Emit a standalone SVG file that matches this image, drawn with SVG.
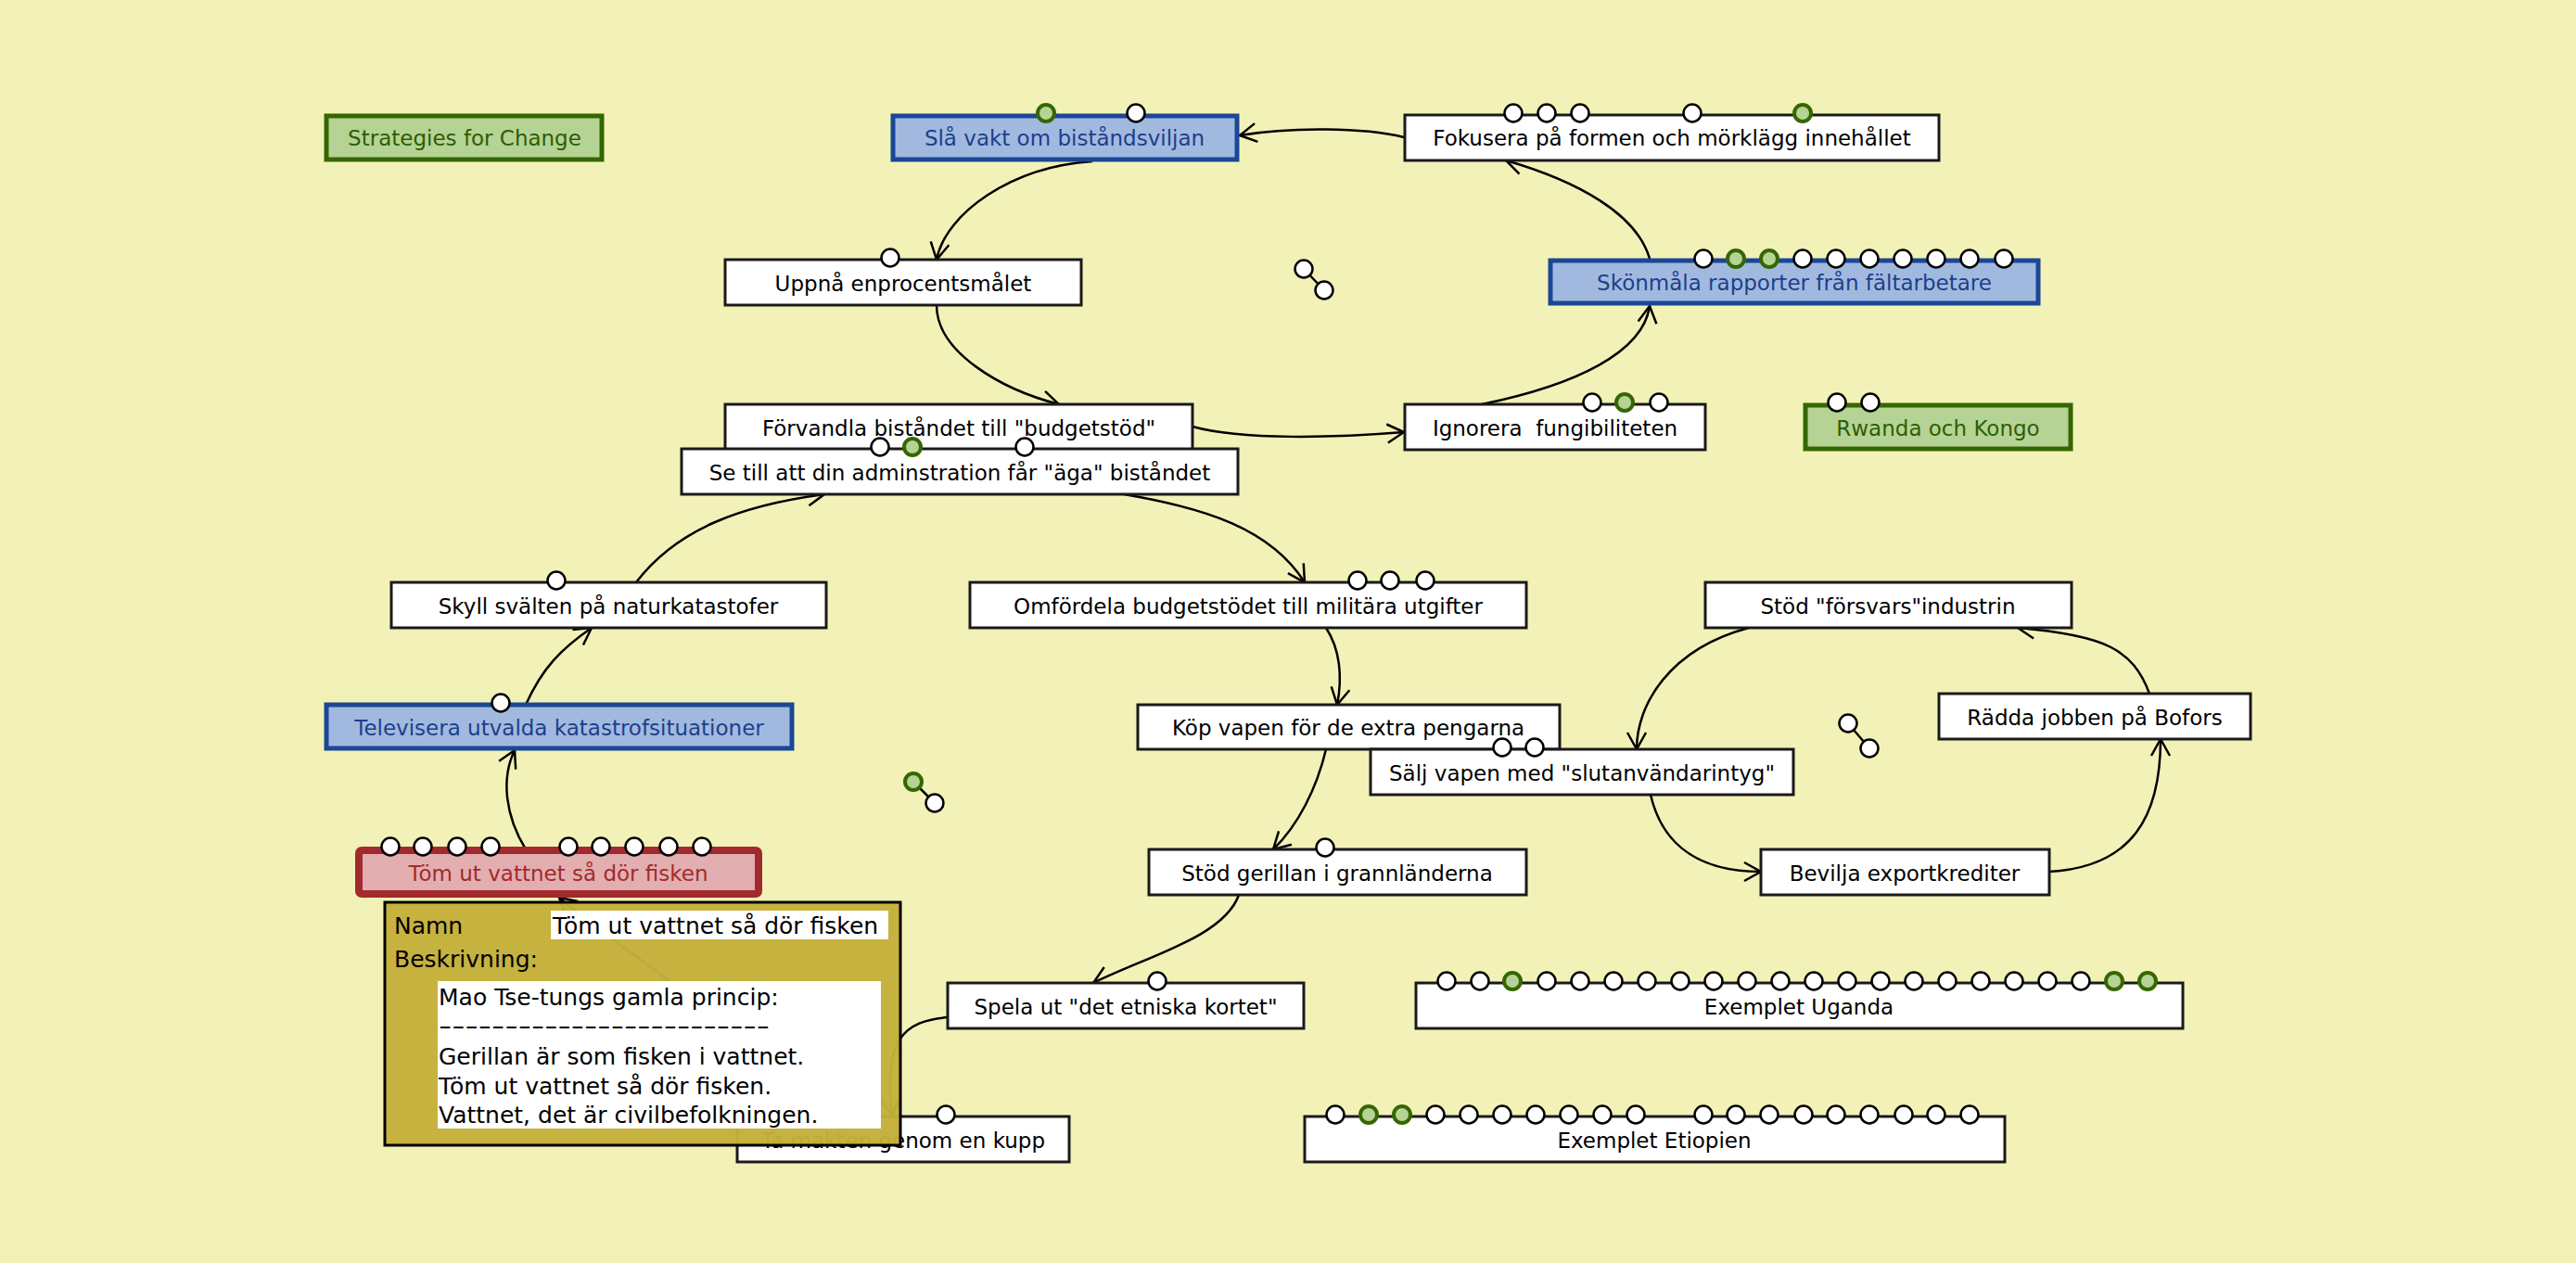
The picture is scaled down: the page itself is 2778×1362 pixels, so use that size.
<svg xmlns="http://www.w3.org/2000/svg" width="2778" height="1362" viewBox="0 0 2778 1362">
<defs>
<style>
.bg{fill:#f2f1b7}
.n rect{fill:#fff;stroke:#1a1a1a;stroke-width:3}
.n text{font-family:"DejaVu Sans",sans-serif;font-size:23px;fill:#000;text-anchor:middle}
.b rect{fill:#a2b9df;stroke:#1a4796;stroke-width:5}
.b text{fill:#1b3f8c}
.g rect{fill:#b5d395;stroke:#356700;stroke-width:5}
.g text{fill:#2f5e00}
.r rect{fill:#e2aeb0;stroke:#a22a2e;stroke-width:8}
.r text{fill:#a22a2e}
.c{fill:#fff;stroke:#000;stroke-width:2.5}
.cg{fill:#b5d395;stroke:#356700;stroke-width:4}
.e{fill:none;stroke:#000;stroke-width:2.5}
.pt{font-family:"DejaVu Sans",sans-serif;font-size:25px;fill:#000}
</style>
<marker id="arr" markerWidth="24" markerHeight="24" refX="21" refY="12" orient="auto" markerUnits="userSpaceOnUse">
<path d="M3,2 L21,12 L3,22" fill="none" stroke="#000" stroke-width="2.5"/>
</marker>
</defs>
<rect class="bg" x="0" y="0" width="2778" height="1362"/>

<g id="connectors">
<path class="e" marker-end="url(#arr)" d="M1514,148 C1470,137 1390,137 1337,146"/>
<path class="e" marker-end="url(#arr)" d="M1178,174 C1090,180 1020,230 1010,280"/>
<path class="e" marker-end="url(#arr)" d="M1010,329 C1010,380 1080,420 1142,436"/>
<path class="e" marker-end="url(#arr)" d="M1286,460 C1340,475 1440,472 1514,466"/>
<path class="e" marker-end="url(#arr)" d="M1598,436 C1700,415 1772,380 1779,330"/>
<path class="e" marker-end="url(#arr)" d="M1779,279 C1765,230 1700,195 1624,173"/>
<path class="e" marker-end="url(#arr)" d="M1212,533 C1300,548 1370,570 1407,628"/>
<path class="e" marker-end="url(#arr)" d="M686,628 C730,570 800,545 889,533"/>
<path class="e" marker-end="url(#arr)" d="M567,760 C585,720 605,700 638,677"/>
<path class="e" marker-end="url(#arr)" d="M567,916 C545,880 540,840 555,809"/>
<path class="e" marker-end="url(#arr)" d="M1430,677 C1445,700 1448,730 1442,760"/>
<path class="e" marker-end="url(#arr)" d="M1430,808 C1420,850 1400,890 1373,916"/>
<path class="e" marker-end="url(#arr)" d="M1336,965 C1320,1010 1240,1030 1179,1060"/>
<path class="e" marker-end="url(#arr)" d="M1886,677 C1800,700 1765,760 1765,808"/>
<path class="e" marker-end="url(#arr)" d="M1780,857 C1790,900 1820,940 1899,940"/>
<path class="e" marker-end="url(#arr)" d="M2210,940 C2300,935 2330,880 2330,797"/>
<path class="e" marker-end="url(#arr)" d="M2318,748 C2300,700 2270,685 2176,677"/>
<path class="e" marker-end="url(#arr)" d="M1022,1097 C975,1101 952,1120 962,1203"/>
<path class="e" marker-end="url(#arr)" d="M830,1204 C800,1090 700,1050 603,968"/>
<line class="e" x1="1406" y1="290" x2="1428" y2="313"/>
<line class="e" x1="985" y1="843" x2="1008" y2="866"/>
<line class="e" x1="1993" y1="780" x2="2016" y2="807"/>
<circle class="c" cx="1406" cy="290" r="9.5"/>
<circle class="c" cx="1428" cy="313" r="9.5"/>
<circle class="cg" cx="985" cy="843" r="9"/>
<circle class="c" cx="1008" cy="866" r="9.5"/>
<circle class="c" cx="1993" cy="780" r="9.5"/>
<circle class="c" cx="2016" cy="807" r="9.5"/>
</g>

<g id="n-strategies" class="n g"><rect x="352" y="125" width="297" height="47"/><text x="501" y="157">Strategies for Change</text></g>

<g id="n-slavakt" class="n b"><rect x="963" y="125" width="371" height="47"/><text x="1148" y="157">Slå vakt om biståndsviljan</text>
<circle class="cg" cx="1128" cy="122" r="9"/><circle class="c" cx="1225" cy="122" r="9.5"/></g>

<g id="n-fokusera" class="n"><rect x="1515" y="124" width="576" height="49"/><text x="1803" y="157">Fokusera på formen och mörklägg innehållet</text>
<circle class="c" cx="1632" cy="122" r="9.5"/><circle class="c" cx="1668" cy="122" r="9.5"/><circle class="c" cx="1704" cy="122" r="9.5"/><circle class="c" cx="1825" cy="122" r="9.5"/><circle class="cg" cx="1944" cy="122" r="9"/></g>

<g id="n-uppna" class="n"><rect x="782" y="280" width="384" height="49"/><text x="974" y="314">Uppnå enprocentsmålet</text>
<circle class="c" cx="960" cy="278" r="9.5"/></g>

<g id="n-skonmala" class="n b"><rect x="1672" y="281" width="526" height="46"/><text x="1935" y="313">Skönmåla rapporter från fältarbetare</text>
<circle class="c" cx="1837" cy="279" r="9.5"/><circle class="cg" cx="1872" cy="279" r="9"/><circle class="cg" cx="1908" cy="279" r="9"/><circle class="c" cx="1944" cy="279" r="9.5"/><circle class="c" cx="1980" cy="279" r="9.5"/><circle class="c" cx="2016" cy="279" r="9.5"/><circle class="c" cx="2052" cy="279" r="9.5"/><circle class="c" cx="2088" cy="279" r="9.5"/><circle class="c" cx="2124" cy="279" r="9.5"/><circle class="c" cx="2161" cy="279" r="9.5"/></g>

<g id="n-forvandla" class="n"><rect x="782" y="436" width="504" height="49"/><text x="1034" y="470">Förvandla biståndet till "budgetstöd"</text></g>

<g id="n-ignorera" class="n"><rect x="1515" y="436" width="324" height="49"/><text x="1677" y="470" xml:space="preserve">Ignorera  fungibiliteten</text>
<circle class="c" cx="1717" cy="434" r="9.5"/><circle class="cg" cx="1752" cy="434" r="9"/><circle class="c" cx="1789" cy="434" r="9.5"/></g>

<g id="n-rwanda" class="n g"><rect x="1947" y="437" width="286" height="47"/><text x="2090" y="470">Rwanda och Kongo</text>
<circle class="c" cx="1981" cy="434" r="9.5"/><circle class="c" cx="2017" cy="434" r="9.5"/></g>

<g id="n-setill" class="n"><rect x="735" y="484" width="600" height="49"/><text x="1035" y="518">Se till att din adminstration får "äga" biståndet</text>
<circle class="c" cx="949" cy="482" r="9.5"/><circle class="cg" cx="984" cy="482" r="9"/><circle class="c" cx="1105" cy="482" r="9.5"/></g>

<g id="n-skyll" class="n"><rect x="422" y="628" width="469" height="49"/><text x="656" y="662">Skyll svälten på naturkatastofer</text>
<circle class="c" cx="600" cy="626" r="9.5"/></g>

<g id="n-omfordela" class="n"><rect x="1046" y="628" width="600" height="49"/><text x="1346" y="662">Omfördela budgetstödet till militära utgifter</text>
<circle class="c" cx="1464" cy="626" r="9.5"/><circle class="c" cx="1499" cy="626" r="9.5"/><circle class="c" cx="1537" cy="626" r="9.5"/></g>

<g id="n-forsvars" class="n"><rect x="1839" y="628" width="395" height="49"/><text x="2036" y="662">Stöd "försvars"industrin</text></g>

<g id="n-televisera" class="n b"><rect x="352" y="760" width="502" height="47"/><text x="603" y="793">Televisera utvalda katastrofsituationer</text>
<circle class="c" cx="540" cy="758" r="9.5"/></g>

<g id="n-kopvapen" class="n"><rect x="1227" y="760" width="455" height="48"/><text x="1454" y="793">Köp vapen för de extra pengarna</text></g>

<g id="n-radda" class="n"><rect x="2091" y="748" width="336" height="49"/><text x="2259" y="782">Rädda jobben på Bofors</text></g>

<g id="n-salj" class="n"><rect x="1478" y="808" width="456" height="49"/><text x="1706" y="842">Sälj vapen med "slutanvändarintyg"</text>
<circle class="c" cx="1620" cy="806" r="9.5"/><circle class="c" cx="1655" cy="806" r="9.5"/></g>

<g id="n-tomut" class="n r"><rect x="387" y="917" width="431" height="47" rx="3"/><text x="602" y="950">Töm ut vattnet så dör fisken</text>
<circle class="c" cx="421" cy="913" r="9.5"/><circle class="c" cx="456" cy="913" r="9.5"/><circle class="c" cx="493" cy="913" r="9.5"/><circle class="c" cx="529" cy="913" r="9.5"/><circle class="c" cx="613" cy="913" r="9.5"/><circle class="c" cx="648" cy="913" r="9.5"/><circle class="c" cx="684" cy="913" r="9.5"/><circle class="c" cx="721" cy="913" r="9.5"/><circle class="c" cx="757" cy="913" r="9.5"/></g>

<g id="n-gerillan" class="n"><rect x="1239" y="916" width="407" height="49"/><text x="1442" y="950">Stöd gerillan i grannländerna</text>
<circle class="c" cx="1429" cy="914" r="9.5"/></g>

<g id="n-bevilja" class="n"><rect x="1899" y="916" width="311" height="49"/><text x="2054" y="950">Bevilja exportkrediter</text></g>

<g id="n-spela" class="n"><rect x="1022" y="1060" width="384" height="49"/><text x="1214" y="1094">Spela ut "det etniska kortet"</text>
<circle class="c" cx="1248" cy="1058" r="9.5"/></g>

<g id="n-uganda" class="n"><rect x="1527" y="1060" width="827" height="49"/><text x="1940" y="1094">Exemplet Uganda</text>
<circle class="c" cx="1560" cy="1058" r="9.5"/><circle class="c" cx="1596" cy="1058" r="9.5"/><circle class="cg" cx="1631" cy="1058" r="9"/><circle class="c" cx="1668" cy="1058" r="9.5"/><circle class="c" cx="1704" cy="1058" r="9.5"/><circle class="c" cx="1740" cy="1058" r="9.5"/><circle class="c" cx="1776" cy="1058" r="9.5"/><circle class="c" cx="1812" cy="1058" r="9.5"/><circle class="c" cx="1848" cy="1058" r="9.5"/><circle class="c" cx="1884" cy="1058" r="9.5"/><circle class="c" cx="1920" cy="1058" r="9.5"/><circle class="c" cx="1956" cy="1058" r="9.5"/><circle class="c" cx="1992" cy="1058" r="9.5"/><circle class="c" cx="2028" cy="1058" r="9.5"/><circle class="c" cx="2064" cy="1058" r="9.5"/><circle class="c" cx="2100" cy="1058" r="9.5"/><circle class="c" cx="2136" cy="1058" r="9.5"/><circle class="c" cx="2172" cy="1058" r="9.5"/><circle class="c" cx="2208" cy="1058" r="9.5"/><circle class="c" cx="2244" cy="1058" r="9.5"/><circle class="cg" cx="2280" cy="1058" r="9"/><circle class="cg" cx="2316" cy="1058" r="9"/></g>

<g id="n-tamakten" class="n"><rect x="795" y="1204" width="358" height="49"/><text x="974" y="1238">Ta makten genom en kupp</text>
<circle class="c" cx="1020" cy="1202" r="9.5"/></g>

<g id="n-etiopien" class="n"><rect x="1407" y="1204" width="755" height="49"/><text x="1784" y="1238">Exemplet Etiopien</text>
<circle class="c" cx="1440" cy="1202" r="9.5"/><circle class="cg" cx="1476" cy="1202" r="9"/><circle class="cg" cx="1512" cy="1202" r="9"/><circle class="c" cx="1548" cy="1202" r="9.5"/><circle class="c" cx="1584" cy="1202" r="9.5"/><circle class="c" cx="1620" cy="1202" r="9.5"/><circle class="c" cx="1656" cy="1202" r="9.5"/><circle class="c" cx="1692" cy="1202" r="9.5"/><circle class="c" cx="1728" cy="1202" r="9.5"/><circle class="c" cx="1764" cy="1202" r="9.5"/><circle class="c" cx="1837" cy="1202" r="9.5"/><circle class="c" cx="1872" cy="1202" r="9.5"/><circle class="c" cx="1908" cy="1202" r="9.5"/><circle class="c" cx="1945" cy="1202" r="9.5"/><circle class="c" cx="1980" cy="1202" r="9.5"/><circle class="c" cx="2016" cy="1202" r="9.5"/><circle class="c" cx="2053" cy="1202" r="9.5"/><circle class="c" cx="2088" cy="1202" r="9.5"/><circle class="c" cx="2124" cy="1202" r="9.5"/></g>

<g id="popup">
<rect x="415" y="973" width="556" height="262" fill="#c4b03a" fill-opacity="0.97" stroke="#000" stroke-width="3"/>
<text class="pt" x="425" y="1007">Namn</text>
<rect x="594" y="982" width="364" height="31" fill="#fff"/>
<text class="pt" x="596" y="1007">Töm ut vattnet så dör fisken</text>
<text class="pt" x="425" y="1043">Beskrivning:</text>
<rect x="472" y="1058" width="478" height="159" fill="#fff"/>
<text class="pt" x="473" y="1084">Mao Tse-tungs gamla princip:</text>
<text class="pt" x="473" y="1115" textLength="357" lengthAdjust="spacingAndGlyphs">-------------------------</text>
<text class="pt" x="473" y="1148">Gerillan är som fisken i vattnet.</text>
<text class="pt" x="473" y="1180">Töm ut vattnet så dör fisken.</text>
<text class="pt" x="473" y="1211">Vattnet, det är civilbefolkningen.</text>
</g>
</svg>
